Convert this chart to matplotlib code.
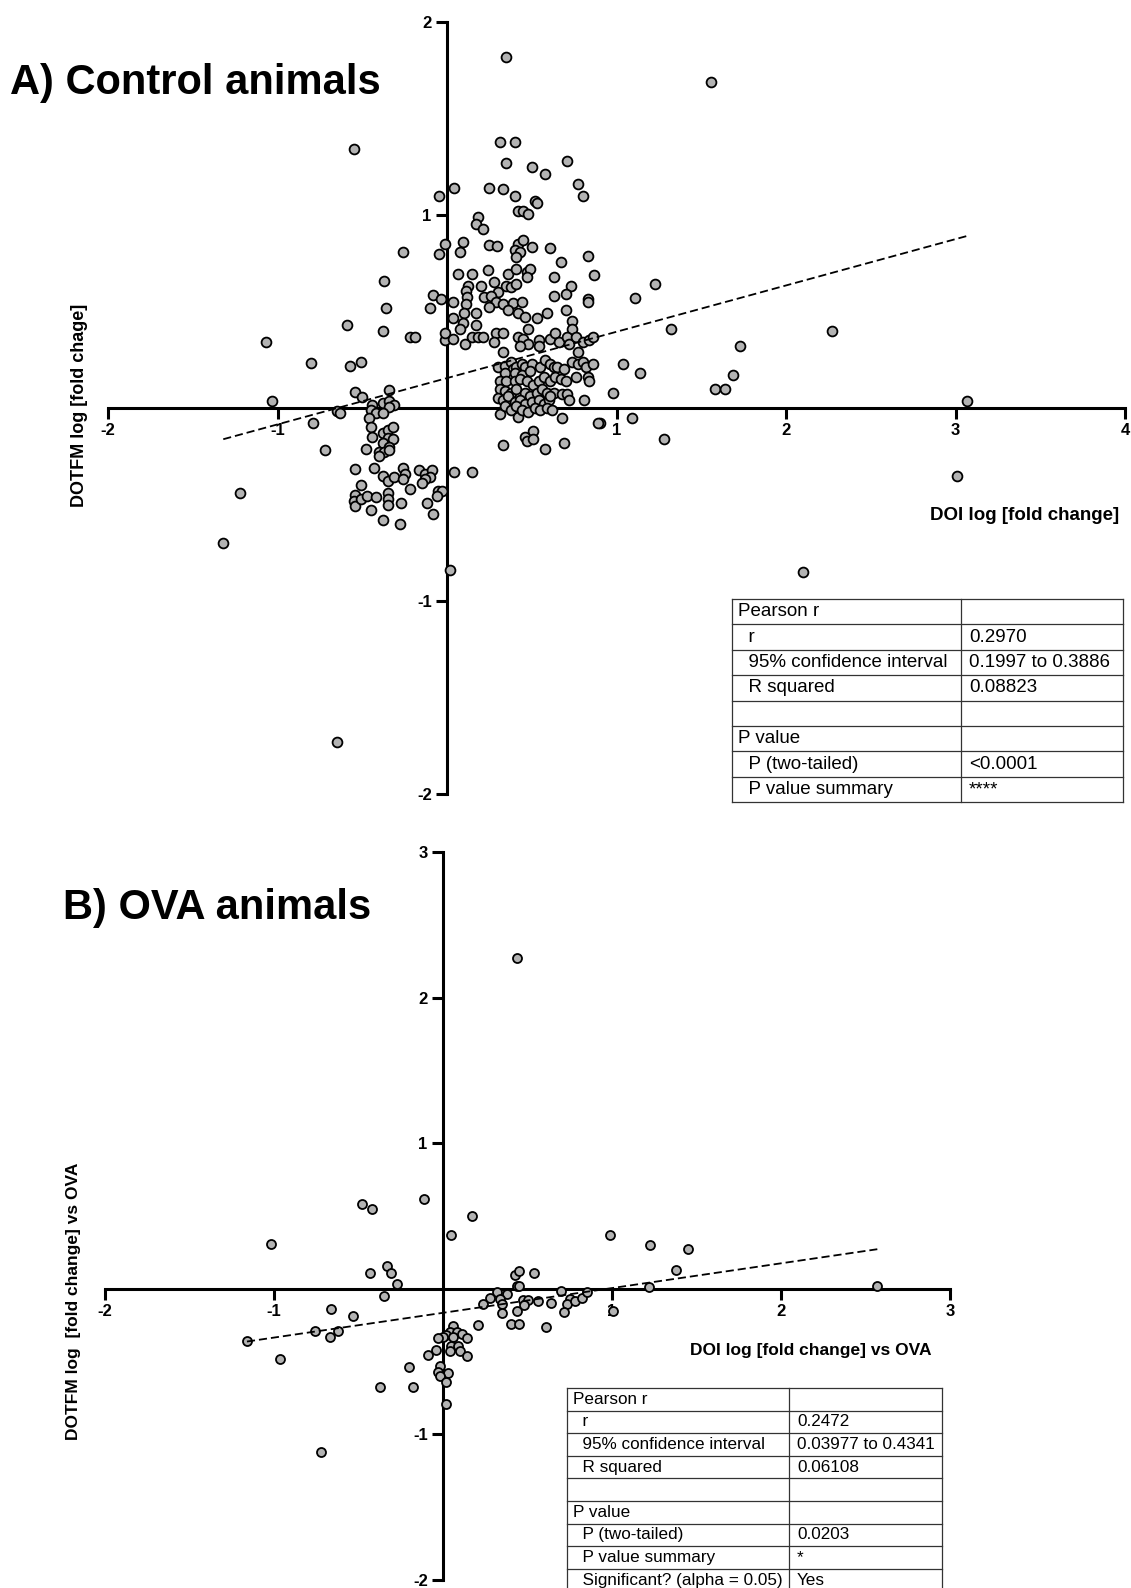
import numpy as np
import matplotlib
matplotlib.use("Agg")
import matplotlib.pyplot as plt

plt.rcParams['font.family'] = ['Liberation Sans', 'DejaVu Sans']

W, H = 1131, 1588

# A) control animals: (DOI log fold change, DOTFM log fold change)
ctrl_pts = [
    (-0.55, 1.34), (-0.05, 1.10), (-0.01, 0.85), (-0.26, 0.81), (-0.05, 0.80), (-0.37, 0.66),
    (-0.08, 0.585), (-0.035, 0.565), (-0.36, 0.52), (-0.10, 0.52), (-0.59, 0.43), (-0.38, 0.40),
    (0.31, 1.38), (0.40, 1.38), (0.35, 1.27), (0.50, 1.25), (0.58, 1.21), (0.71, 1.28),
    (0.77, 1.16), (0.80, 1.10), (0.04, 1.14), (0.25, 1.14), (0.33, 1.135), (0.40, 1.10),
    (0.52, 1.07), (0.53, 1.06), (0.42, 1.02), (0.45, 1.02), (0.48, 1.005), (0.18, 0.99),
    (0.17, 0.955), (0.21, 0.93), (0.094, 0.86), (0.077, 0.81), (0.25, 0.845), (0.295, 0.84),
    (0.42, 0.85), (0.45, 0.87), (0.40, 0.82), (0.43, 0.81), (0.41, 0.78), (0.50, 0.835),
    (0.61, 0.83), (0.83, 0.79), (0.67, 0.756), (0.87, 0.69), (0.63, 0.68), (0.73, 0.63),
    (0.70, 0.59), (0.63, 0.58), (0.83, 0.565), (0.83, 0.55), (0.065, 0.695), (0.15, 0.695),
    (0.24, 0.715), (0.36, 0.695), (0.41, 0.72), (0.47, 0.705), (0.49, 0.72), (0.47, 0.68),
    (0.28, 0.655), (0.20, 0.63), (0.125, 0.63), (0.11, 0.605), (0.12, 0.575), (0.11, 0.54),
    (0.35, 0.63), (0.38, 0.625), (0.41, 0.64), (0.30, 0.60), (0.22, 0.575), (0.26, 0.58),
    (0.29, 0.55), (0.33, 0.54), (0.39, 0.545), (0.44, 0.55), (0.25, 0.525), (0.36, 0.51),
    (0.035, 0.55), (0.035, 0.465), (0.10, 0.49), (0.17, 0.49), (0.095, 0.44), (0.17, 0.43),
    (0.077, 0.41), (0.42, 0.49), (0.46, 0.47), (0.53, 0.465), (0.59, 0.49), (0.70, 0.51),
    (0.74, 0.45), (1.11, 0.57), (1.23, 0.64), (1.32, 0.41), (0.48, 0.41), (0.74, 0.41),
    (-1.07, 0.34), (-0.80, 0.233), (-0.57, 0.22), (-0.51, 0.24), (-0.22, 0.37), (-0.19, 0.37),
    (-0.01, 0.35), (-0.01, 0.39), (-1.03, 0.036), (-0.54, 0.083), (-0.50, 0.057), (-0.34, 0.093),
    (-0.44, 0.016), (-0.38, 0.026), (-0.34, 0.036), (-0.31, 0.016), (-0.34, 0.005), (-0.65, -0.016),
    (-0.63, -0.026), (-0.45, -0.01), (-0.42, -0.026), (-0.38, -0.026), (-0.46, -0.052), (-0.45, -0.098),
    (-0.79, -0.077), (-0.72, -0.22), (-0.48, -0.21), (-0.44, -0.15), (-0.38, -0.13), (-0.35, -0.114),
    (-0.32, -0.098), (-0.35, -0.155), (-0.32, -0.16), (-0.38, -0.18), (-0.34, -0.20), (-0.40, -0.23),
    (-0.37, -0.23), (-0.34, -0.22), (-0.40, -0.25), (-0.54, -0.316), (-0.43, -0.31), (-0.38, -0.35),
    (-0.35, -0.38), (-0.31, -0.36), (-0.26, -0.31), (-0.25, -0.34), (-0.26, -0.37), (-0.165, -0.32),
    (-0.13, -0.34), (-0.09, -0.32), (-0.10, -0.36), (-0.13, -0.37), (-0.15, -0.39), (-0.51, -0.40),
    (-1.22, -0.44), (-0.22, -0.42), (-0.053, -0.43), (-0.03, -0.43), (-0.06, -0.456), (-0.54, -0.45),
    (-0.55, -0.48), (-0.54, -0.51), (-0.51, -0.47), (-0.47, -0.456), (-0.42, -0.46), (-0.35, -0.44),
    (-0.35, -0.47), (-0.35, -0.50), (-0.45, -0.53), (-0.27, -0.49), (-0.38, -0.58), (-0.28, -0.60),
    (-0.12, -0.49), (-0.08, -0.55), (-1.32, -0.70),
    (0.035, 0.36), (0.106, 0.33), (0.15, 0.37), (0.18, 0.37), (0.21, 0.37), (0.29, 0.39),
    (0.33, 0.39), (0.28, 0.34), (0.33, 0.29), (0.42, 0.37), (0.45, 0.36), (0.48, 0.33),
    (0.43, 0.32), (0.54, 0.35), (0.54, 0.32), (0.61, 0.36), (0.64, 0.39), (0.66, 0.34),
    (0.71, 0.37), (0.72, 0.33), (0.76, 0.37), (0.77, 0.29), (0.80, 0.34), (0.84, 0.35),
    (0.86, 0.37), (1.04, 0.23), (1.14, 0.18),
    (0.30, 0.21), (0.34, 0.22), (0.38, 0.24), (0.39, 0.20), (0.41, 0.21), (0.44, 0.23),
    (0.46, 0.21), (0.50, 0.23), (0.34, 0.18), (0.40, 0.18), (0.44, 0.17), (0.49, 0.19),
    (0.55, 0.21), (0.58, 0.25), (0.61, 0.23), (0.63, 0.21), (0.65, 0.21), (0.69, 0.20),
    (0.74, 0.24), (0.77, 0.23), (0.80, 0.24), (0.82, 0.21), (0.86, 0.23), (0.31, 0.14),
    (0.35, 0.14), (0.40, 0.14), (0.43, 0.15), (0.47, 0.14), (0.51, 0.12), (0.54, 0.14),
    (0.57, 0.16), (0.61, 0.14), (0.64, 0.16), (0.67, 0.15), (0.70, 0.14), (0.76, 0.16),
    (0.83, 0.16), (0.84, 0.14), (0.31, 0.10), (0.34, 0.09), (0.38, 0.08), (0.41, 0.10),
    (0.46, 0.08), (0.49, 0.06), (0.53, 0.08), (0.56, 0.10), (0.59, 0.08), (0.63, 0.08),
    (0.68, 0.07), (0.71, 0.07), (0.72, 0.04), (0.81, 0.04), (0.98, 0.08), (0.30, 0.05),
    (0.33, 0.04), (0.36, 0.06), (0.40, 0.03), (0.43, 0.04), (0.46, 0.02), (0.50, 0.03),
    (0.54, 0.04), (0.57, 0.02), (0.60, 0.04), (0.61, 0.06), (0.31, -0.03), (0.34, 0.01),
    (0.38, -0.01), (0.41, 0.01), (0.42, -0.045), (0.44, -0.01), (0.48, -0.02), (0.52, 0.00),
    (0.55, -0.01), (0.59, 0.00), (0.62, -0.01), (0.68, -0.05), (0.90, -0.08), (0.89, -0.08),
    (1.09, -0.05), (1.28, -0.16), (0.33, -0.19), (0.46, -0.15), (0.47, -0.17), (0.51, -0.12),
    (0.51, -0.16), (0.58, -0.21), (0.69, -0.18), (0.04, -0.33), (0.15, -0.33),
    (0.35, 1.82), (1.56, 1.69), (1.58, 0.10), (1.64, 0.10), (1.69, 0.17), (1.73, 0.32),
    (2.27, 0.40), (3.07, 0.035), (3.01, -0.35), (2.10, -0.85), (-0.65, -1.73), (0.02, -0.84),
]

# B) OVA animals
ova_pts = [
    (-1.02, 0.31), (-0.48, 0.58), (-0.42, 0.55), (-0.11, 0.62), (0.17, 0.50), (0.05, 0.37),
    (-0.43, 0.107), (-0.33, 0.16), (-0.31, 0.107), (-0.27, 0.03), (-0.35, -0.047), (-0.66, -0.14),
    (-0.53, -0.19), (-0.76, -0.29), (-0.62, -0.29), (-0.67, -0.33), (-1.16, -0.36), (-0.965, -0.48),
    (-0.37, -0.675), (-0.175, -0.675), (-0.20, -0.54), (0.017, -0.79),
    (0.06, -0.256), (0.04, -0.30), (0.08, -0.30), (0.11, -0.31), (0.02, -0.32), (0.06, -0.33),
    (0.0, -0.33), (-0.03, -0.34), (0.14, -0.34), (0.05, -0.39), (0.09, -0.39), (0.10, -0.43),
    (0.14, -0.46), (0.04, -0.43), (-0.04, -0.42), (-0.09, -0.455), (-0.02, -0.53), (-0.03, -0.57),
    (0.03, -0.58), (-0.02, -0.60), (0.017, -0.64), (0.21, -0.25),
    (0.99, 0.372), (1.225, 0.30), (1.45, 0.275), (1.377, 0.132), (1.22, 0.014), (0.426, 0.093),
    (0.45, 0.123), (0.54, 0.107), (0.44, 0.02), (0.45, 0.016), (0.32, -0.02), (0.38, -0.036),
    (0.28, -0.065), (0.337, -0.07), (0.235, -0.104), (0.35, -0.104), (0.35, -0.165), (0.475, -0.075),
    (0.505, -0.075), (0.48, -0.11), (0.44, -0.15), (0.56, -0.084), (0.637, -0.10), (0.70, -0.013),
    (0.75, -0.07), (0.735, -0.104), (0.78, -0.086), (0.82, -0.065), (0.854, -0.025), (0.718, -0.16),
    (0.40, -0.24), (0.45, -0.24), (0.61, -0.26), (1.008, -0.15),
    (0.44, 2.27), (2.57, 0.02), (-0.72, -1.12),
]

# linear fits (slope, intercept)
ctrl_fit = (0.24, 0.155)
ova_fit = (0.17, -0.165)

ctrl_table = [
    ("Pearson r", ""), ("  r", "0.2970"), ("  95% confidence interval", "0.1997 to 0.3886"),
    ("  R squared", "0.08823"), ("", ""), ("P value", ""), ("  P (two-tailed)", "<0.0001"),
    ("  P value summary", "****"),
]
ova_table = [
    ("Pearson r", ""), ("  r", "0.2472"), ("  95% confidence interval", "0.03977 to 0.4341"),
    ("  R squared", "0.06108"), ("", ""), ("P value", ""), ("  P (two-tailed)", "0.0203"),
    ("  P value summary", "*"), ("  Significant? (alpha = 0.05)", "Yes"),
]

fig = plt.figure(figsize=(W / 100, H / 100), dpi=100)


def px_axes(x0, x1, y0, y1):
    # x0/x1 left/right pixel, y0/y1 top/bottom pixel
    return fig.add_axes([x0 / W, 1 - y1 / H, (x1 - x0) / W, (y1 - y0) / H])


def style_axes(ax, xlim, ylim, xticks, yticks):
    ax.set_xlim(*xlim)
    ax.set_ylim(*ylim)
    for s in ['top', 'right']:
        ax.spines[s].set_visible(False)
    ax.spines['left'].set_position(('data', 0))
    ax.spines['bottom'].set_position(('data', 0))
    for s in ['left', 'bottom']:
        ax.spines[s].set_linewidth(2.2)
    ax.set_xticks(xticks)
    ax.set_yticks(yticks)
    ax.set_xticklabels([str(t) for t in xticks])
    ax.set_yticklabels([str(t) for t in yticks])
    ax.tick_params(direction='out', length=8, width=2.2, labelsize=12, pad=3)
    for lab in ax.get_xticklabels() + ax.get_yticklabels():
        lab.set_fontweight('bold')
    ax.patch.set_visible(False)


def scatter_fit(ax, pts, fit, size):
    x, y = np.array(pts).T
    ax.scatter(x, y, s=size, facecolor='#b3b3b3', edgecolor='black', linewidths=1.3,
               zorder=3, clip_on=False)
    xs = np.array([x.min(), x.max()])
    ax.plot(xs, fit[0] * xs + fit[1], color='black', lw=1.3, ls=(0, (4.5, 2.2)), zorder=4)


def draw_table(rows, left, top, width, split, row_h, fs):
    height = row_h * len(rows)
    ax = px_axes(left, left + width, top, top + height)
    ax.set_xlim(0, width)
    ax.set_ylim(height, 0)
    ax.axis('off')
    for i, (a, b) in enumerate(rows):
        yc = (i + 0.5) * row_h
        ax.text(6, yc, a, va='center', ha='left', fontsize=fs)
        ax.text(split + 8, yc, b, va='center', ha='left', fontsize=fs)
    for i in range(len(rows) + 1):
        ax.plot([0, width], [i * row_h, i * row_h], color='#333333', lw=0.9, clip_on=False)
    for xv in [0, split, width]:
        ax.plot([xv, xv], [0, height], color='#333333', lw=0.9, clip_on=False)


# panel A
axA = px_axes(108, 1125, 22, 794)
style_axes(axA, (-2, 4), (-2, 2), [-2, -1, 1, 2, 3, 4], [-2, -1, 1, 2])
scatter_fit(axA, ctrl_pts, ctrl_fit, 50)
fig.text(10 / W, 1 - 83 / H, "A) Control animals", fontsize=30, fontweight='bold',
         ha='left', va='center')
fig.text(79 / W, 1 - 405 / H, "DOTFM log [fold chage]", fontsize=13, fontweight='bold',
         rotation=90, ha='center', va='center')
fig.text(1025 / W, 1 - 515 / H, "DOI log [fold change]", fontsize=13.5, fontweight='bold',
         ha='center', va='center')
draw_table(ctrl_table, 732, 599, 391, 229, 25.4, 13.5)

# panel B
axB = px_axes(105, 950, 852, 1580)
style_axes(axB, (-2, 3), (-2, 3), [-2, -1, 1, 2, 3], [-2, -1, 1, 2, 3])
scatter_fit(axB, ova_pts, ova_fit, 42)
fig.text(63 / W, 1 - 908 / H, "B) OVA animals", fontsize=30, fontweight='bold',
         ha='left', va='center')
fig.text(74 / W, 1 - 1301 / H, "DOTFM log  [fold change] vs OVA", fontsize=12.5,
         fontweight='bold', rotation=90, ha='center', va='center')
fig.text(811 / W, 1 - 1350 / H, "DOI log [fold change] vs OVA", fontsize=12.5,
         fontweight='bold', ha='center', va='center')
draw_table(ova_table, 567, 1388, 375, 222, 22.6, 12.3)

fig.savefig("out.png", dpi=100)
